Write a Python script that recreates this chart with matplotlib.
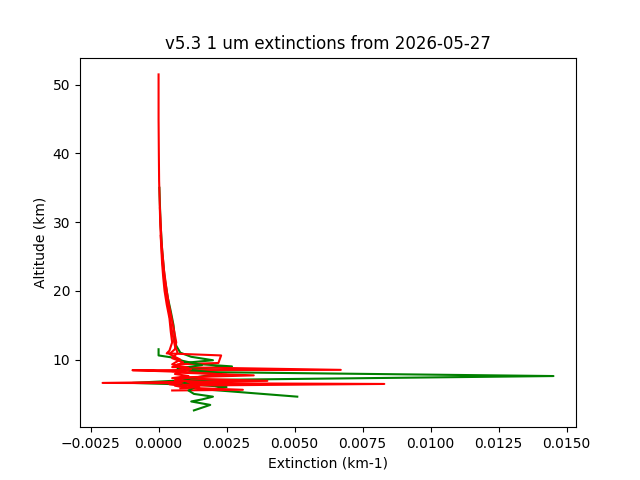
import matplotlib
matplotlib.use("Agg")
import matplotlib.pyplot as plt

# extinction profiles (km-1) vs altitude (km)
green1_alt = [35, 30, 26, 22, 19, 17, 15, 13, 12, 11, 10.4, 9.9, 9.5, 9.0, 8.6,
              8.2, 7.6, 7.0, 6.6, 6.3, 6.0, 5.6, 4.6]
green1_ext = [0.00003, 0.00007, 0.00013, 0.00022, 0.00034, 0.00045, 0.00055, 0.0006,
              0.00065, 0.0008, 0.0012, 0.0020, 0.0009, 0.0027, 0.0010, 0.0012,
              0.01452, 0.0010, -0.00096, 0.0015, 0.0025, 0.0019, 0.0051]

green2_alt = [11.5, 10.6, 10.3, 9.8, 9.2, 8.7, 8.0, 7.3, 6.8, 6.4, 5.9, 5.5, 5.0,
              4.6, 4.2, 3.9, 3.4, 2.6]
green2_ext = [0.0, 0.0, 0.0005, 0.0009, 0.0016, 0.0007, 0.0023, 0.0012, 0.0008,
              0.0011, 0.0013, 0.0011, 0.0013, 0.0020, 0.0016, 0.0012, 0.0019, 0.0013]

red1_alt = [51.5, 45, 40, 36, 33, 30, 27, 24, 22, 20, 18, 16, 14, 12.5, 11.3, 10.9,
            10.6, 9.5, 9.3, 8.9, 8.5, 8.45, 8.2, 7.9, 7.6, 7.3, 6.9, 6.6, 6.45,
            6.2, 5.9, 5.6, 5.5]
red1_ext = [0.0, 0.0, 0.00001, 0.00002, 0.00004, 0.00006, 0.00009, 0.00013,
            0.00017, 0.00022, 0.0003, 0.0004, 0.00045, 0.0005, 0.0004, 0.0003,
            0.0023, 0.0022, 0.0007, 0.0005, 0.0067, -0.00096, 0.0009, 0.0006,
            0.0011, 0.0005, 0.0040, -0.00206, 0.0083, 0.0006, 0.0010, 0.0031, 0.0005]

red2_alt = [28, 24, 20, 17, 14, 12, 11, 10.2, 9.6, 9.0, 8.6, 8.1, 7.7, 7.4, 7.0,
            6.6, 6.3, 6.0, 5.8]
red2_ext = [0.00008, 0.00015, 0.00027, 0.00038, 0.0005, 0.0006, 0.0007, 0.0005,
            0.0009, 0.0006, 0.0012, 0.0007, 0.0035, 0.0008, 0.0006, 0.0021, 0.0009,
            0.0015, 0.0008]

red3_alt = [32, 27, 23, 20, 18, 16, 14, 12.5, 11.5, 10.8, 10.0, 9.3, 8.8, 8.3,
            7.8, 7.2, 6.8, 6.4, 6.1]
red3_ext = [0.00005, 0.00011, 0.0002, 0.0003, 0.00038, 0.00048, 0.00058, 0.00065,
            0.0006, 0.0004, 0.0008, 0.0005, 0.0011, 0.0005, 0.0025, 0.0007, 0.0009,
            0.0004, 0.0010]

fig, ax = plt.subplots(figsize=(6.4, 4.8), dpi=100)

ax.plot(green1_ext, green1_alt, color="green")
ax.plot(red1_ext, red1_alt, color="red")
ax.plot(green2_ext, green2_alt, color="green")
ax.plot(red2_ext, red2_alt, color="red")
ax.plot(red3_ext, red3_alt, color="red")

ax.set_title("v5.3 1 um extinctions from 2026-05-27")
ax.set_xlabel("Extinction (km-1)")
ax.set_ylabel("Altitude (km)")

fig.savefig("out.png")
